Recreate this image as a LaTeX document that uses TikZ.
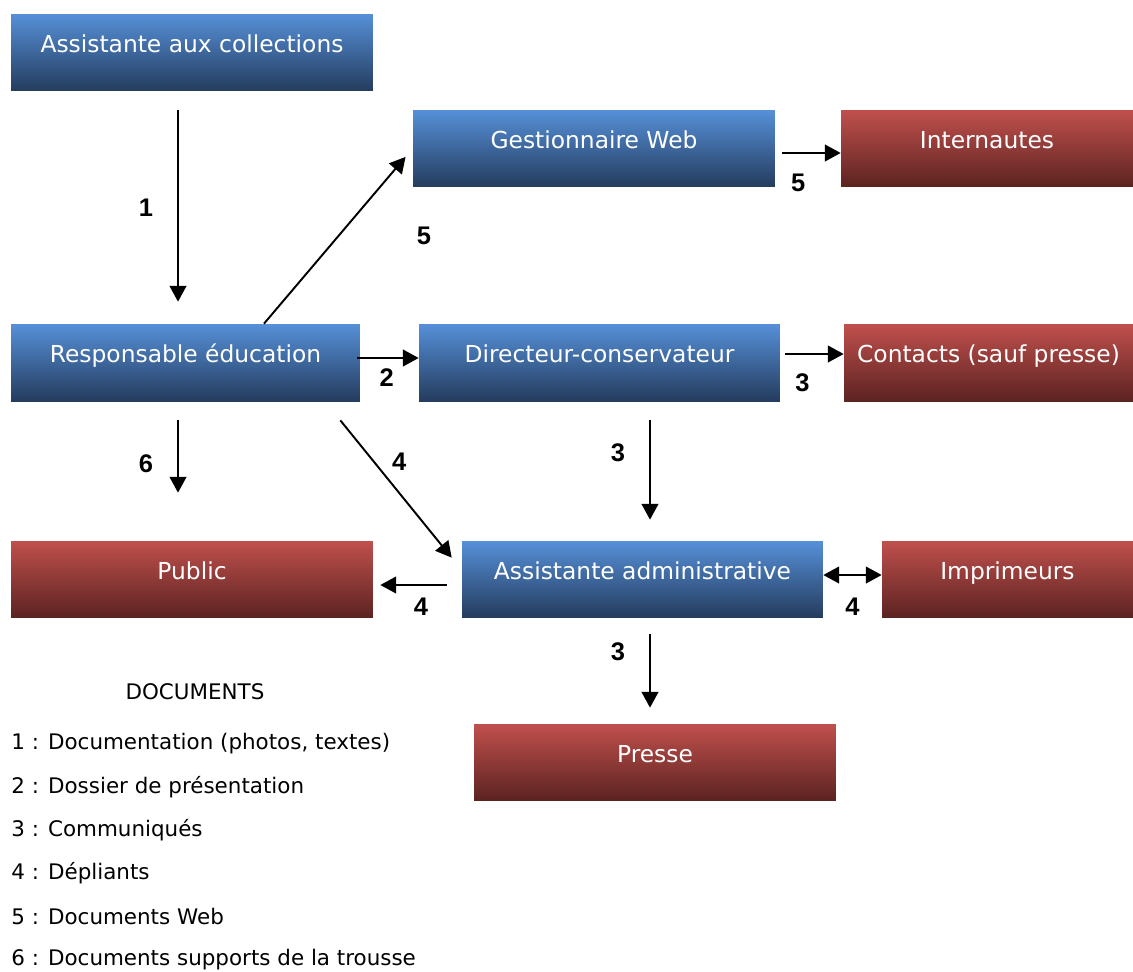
\documentclass[tikz,border=0pt]{standalone}
\usepackage{fontspec}
\setmainfont{DejaVu Sans}
\newfontfamily\numfont{Liberation Sans}
\usetikzlibrary{arrows.meta}
\definecolor{bluetop}{HTML}{5690D8}
\definecolor{bluebot}{HTML}{243C5E}
\definecolor{redtop}{HTML}{C0504D}
\definecolor{redbot}{HTML}{5C2321}
\begin{document}
\begin{tikzpicture}[x=0.02cm,y=-0.02cm,
  box/.style={minimum height=1.54cm,inner sep=0pt,text=white,
    font=\fontsize{13.3}{16}\selectfont,text height=0.8em,text depth=0.8em},
  bluebox/.style={box,top color=bluetop,bottom color=bluebot},
  redbox/.style={box,top color=redtop,bottom color=redbot},
  arr/.style={-{Triangle[length=9pt,width=9.5pt]},line width=1.1pt},
  biarr/.style={{Triangle[length=9pt,width=9.5pt]}-{Triangle[length=9pt,width=9.5pt]},line width=1.1pt},
  num/.style={font=\numfont\bfseries\fontsize{14.5}{16}\selectfont,inner sep=0pt},
  legend/.style={anchor=west,inner sep=0pt,font=\fontsize{12.2}{14}\selectfont}]
\useasboundingbox (0,0) rectangle (1133,971);
\node[bluebox,minimum width=7.24cm] (ac) at (192,52.5) {Assistante aux collections};
\node[bluebox,minimum width=7.24cm] (gw) at (594,148.5) {Gestionnaire Web};
\node[redbox,minimum width=5.84cm] (in) at (987,148.5) {Internautes};
\node[bluebox,minimum width=6.98cm] (re) at (185.5,362.5) {Responsable éducation};
\node[bluebox,minimum width=7.22cm] (dc) at (599.5,362.5) {Directeur-conservateur};
\node[redbox,minimum width=5.78cm] (co) at (988.5,362.5) {Contacts (sauf presse)};
\node[redbox,minimum width=7.24cm,minimum height=1.52cm] (pu) at (192,579) {Public};
\node[bluebox,minimum width=7.22cm,minimum height=1.52cm] (aa) at (642.5,579) {Assistante administrative};
\node[redbox,minimum width=5.02cm,minimum height=1.52cm] (im) at (1007.5,579) {Imprimeurs};
\node[redbox,minimum width=7.24cm,minimum height=1.52cm] (pr) at (655,762) {Presse};
\draw[arr,shorten <=0.38cm,shorten >=0.44cm] ([xshift=-0.28cm]ac.south) -- ([xshift=-0.28cm]ac.south |- re.north)
  node[num,midway,left=0.48cm] {1};
\draw[arr,shorten >=0.22cm] ([xshift=1.57cm]re.north) -- (gw.west)
  node[num,midway,right=1.55cm] {5};
\draw[arr,shorten <=0.14cm] ([yshift=-0.09cm]gw.east) -- ([yshift=-0.09cm]gw.east -| in.west)
  node[num,pos=0.35,below=0.4cm] {5};
\draw[arr,shorten <=-0.06cm] ([yshift=0.09cm]re.east) -- ([yshift=0.09cm]re.east -| dc.west)
  node[num,pos=0.45,below=0.2cm] {2};
\draw[arr,shorten <=0.1cm] ([yshift=0.17cm]dc.east) -- ([yshift=0.17cm]dc.east -| co.west)
  node[num,pos=0.35,below=0.38cm] {3};
\draw[arr,shorten <=0.38cm,shorten >=0.96cm] ([xshift=-0.15cm]re.south) -- ([xshift=-0.15cm]re.south |- pu.north)
  node[num,pos=0.45,left=0.48cm] {6};
\draw[arr] ([shift={(-0.4cm,-0.38cm)}]re.south east) -- ([shift={(-0.2cm,-0.34cm)}]aa.north west)
  node[num,pos=0.3,right=0.35cm] {4};
\draw[arr,shorten <=0.38cm,shorten >=0.42cm] ([xshift=1.01cm]dc.south) -- ([xshift=1.01cm]dc.south |- aa.north)
  node[num,pos=0.37,left=0.48cm] {3};
\draw[arr,shorten <=0.3cm,shorten >=0.14cm] ([yshift=-0.12cm]aa.west) -- ([yshift=-0.12cm]aa.west -| pu.east)
  node[num,pos=0.46,below=0.24cm] {4};
\draw[biarr] ([yshift=0.08cm]aa.east) -- ([yshift=0.08cm]aa.east -| im.west)
  node[num,midway,below=0.44cm] {4};
\draw[arr,shorten <=0.34cm,shorten >=0.32cm] ([xshift=0.15cm]aa.south) -- ([xshift=0.15cm]aa.south |- pr.north)
  node[num,pos=0.32,left=0.48cm] {3};
\node[font=\fontsize{12.2}{14}\selectfont,inner sep=0pt] (docs) at (195,692) {DOCUMENTS};
\foreach \txt [count=\i] in {{Documentation (photos, textes)},{Dossier de présentation},{Communiqués},
  {Dépliants},{Documents Web},{Documents supports de la trousse}}
  \node[legend] (doc\i) at (11,{744+43.2*(\i-1)}) {\i{} : \txt};
\end{tikzpicture}
\end{document}
